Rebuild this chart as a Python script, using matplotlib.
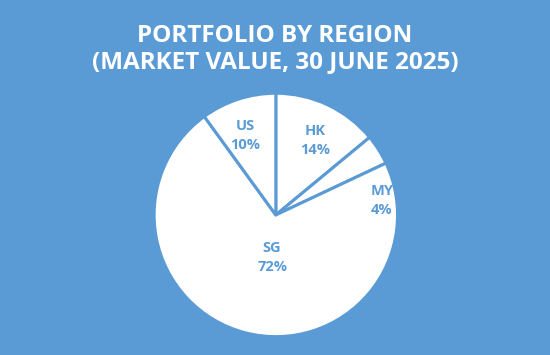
import matplotlib
matplotlib.use("Agg")
import matplotlib.pyplot as plt

regions = ["HK", "MY", "SG", "US"]
shares = [14, 4, 72, 10]
label_x = [0.32, 0.87, -0.03, -0.25]
label_y = [0.61, 0.12, -0.35, 0.65]

bg = "#5B9BD5"
plt.rcParams['font.family'] = ['Open Sans', 'DejaVu Sans']

fig = plt.figure(figsize=(5.5, 3.55), dpi=100)
fig.patch.set_facecolor(bg)
ax = fig.add_axes([0.278, 0.048, 0.447, 0.693])
ax.set_facecolor(bg)
ax.pie(shares, startangle=90, counterclock=False, colors=["white"] * 4,
       wedgeprops=dict(edgecolor=bg, linewidth=2.2), radius=1)
for r, s, x, y in zip(regions, shares, label_x, label_y):
    ax.text(x, y, f"{r}\n{s}%", ha="center", va="center", color=bg,
            fontsize=10.5, fontweight="bold", linespacing=1.45)
ax.set_xlim(-1.01, 1.01)
ax.set_ylim(-1.01, 1.01)
ax.axis("off")
fig.text(0.5, 0.862, "PORTFOLIO BY REGION\n(MARKET VALUE, 30 JUNE 2025)",
         ha="center", va="center", color="white", fontsize=17.5,
         fontweight="bold", linespacing=1.15)
fig.savefig("out.png", dpi=100, facecolor=bg)
